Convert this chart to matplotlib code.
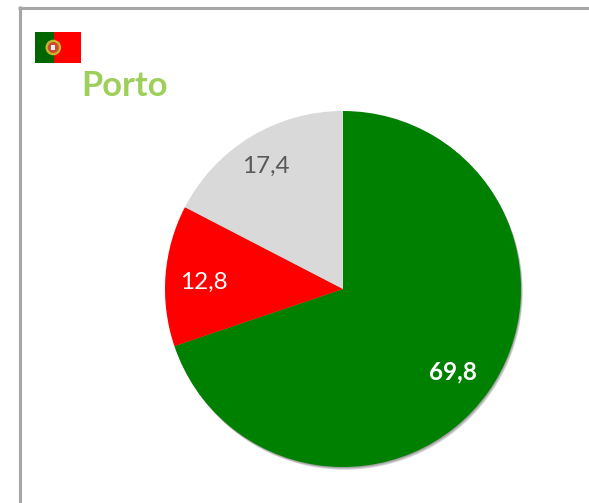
import matplotlib
matplotlib.use('Agg')
import matplotlib.pyplot as plt
from matplotlib.patches import Rectangle, Circle

W, H = 589, 503

values = [69.8, 12.8, 17.4]
colors = ['#008000', '#ff0000', '#d9d9d9']
label_colors = ['white', 'white', '#595959']
label_weights = ['bold', 'normal', 'normal']
title = 'Porto'

plt.rcParams['font.family'] = ['Lato', 'DejaVu Sans']

fig = plt.figure(figsize=(W / 100, H / 100), dpi=100)

# фон в пикселях картинки: рамка, флаг, заголовок
bg = fig.add_axes([0, 0, 1, 1])
bg.set_xlim(0, W)
bg.set_ylim(H, 0)
bg.axis('off')
bg.plot([19.8, 19.8], [H, 6], color='#a6a6a6', lw=2.2, solid_capstyle='butt')
bg.plot([18.3, W], [7.5, 7.5], color='#a6a6a6', lw=2.2, solid_capstyle='butt')

bg.add_patch(Rectangle((35, 32), 18.5, 31, color='#006600', lw=0))
bg.add_patch(Rectangle((53.5, 32), 27.5, 31, color='#ff0000', lw=0))
bg.add_patch(Circle((53.3, 47.5), 7.8, color='#c9b52a', lw=0))
bg.add_patch(Circle((53.3, 47.5), 5.5, color='#cf4a32', lw=0))
bg.add_patch(Rectangle((51.3, 45), 4, 5, color='#eef0f4', lw=0))

bg.text(81, 85.5, title, color='#9dcf5a', fontsize=24.8, fontweight='bold',
        ha='left', va='center')

# круг: центр (343, 289), радиус 178 px
cx, cy, r = 343, 289, 178
ax = fig.add_axes([(cx - r) / W, 1 - (cy + r) / H, 2 * r / W, 2 * r / H])

# мягкая тень под кругом, только снизу справа
for k in range(1, 5):
    ax.add_patch(Circle((0.0025 * k, -0.004 * k), 1, color='#404040', alpha=0.16,
                        lw=0, zorder=0, clip_on=False))

wedges, texts, autotexts = ax.pie(
    values, colors=colors, startangle=90, counterclock=False, radius=1,
    autopct=lambda p: f'{p:.1f}'.replace('.', ','), pctdistance=0.78,
    wedgeprops={'linewidth': 0, 'zorder': 2},
)
ax.set_xlim(-1, 1)
ax.set_ylim(-1, 1)

# сдвиг подписей в пикселях (x вправо, y вниз)
nudges = [(-3, 2), (-1, 4), (-5, -4)]
for t, c, w, n in zip(autotexts, label_colors, label_weights, nudges):
    t.set_color(c)
    t.set_fontweight(w)
    t.set_fontsize(17.5)
    x, y = t.get_position()
    t.set_position((x + n[0] / r, y - n[1] / r))
    t.set_zorder(3)

plt.savefig('out.png', dpi=100)
plt.close()
